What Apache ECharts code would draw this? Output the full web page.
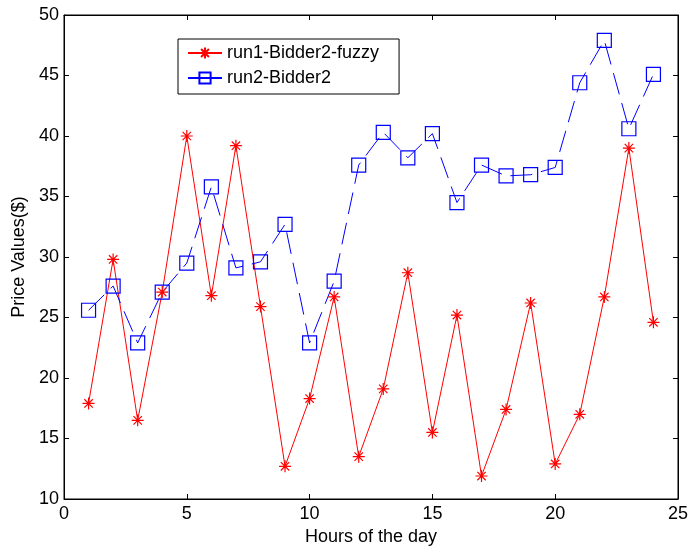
<!DOCTYPE html>
<html><head><meta charset="utf-8">
<script src="https://cdn.jsdelivr.net/npm/echarts@6/dist/echarts.min.js"></script>
<style>html,body{margin:0;padding:0;background:#fff}#c{width:691px;height:554px}</style>
</head><body><div id="c"></div>
<script>
const hours = [1,2,3,4,5,6,7,8,9,10,11,12,13,14,15,16,17,18,19,20,21,22,23,24];
const run1Fuzzy = [17.9,29.8,16.5,27.1,40.0,26.8,39.2,25.9,12.7,18.3,26.7,13.5,19.1,28.7,15.5,25.2,11.9,17.4,26.2,12.9,17.0,26.7,39.0,24.6];
const run2 = [25.6,27.6,22.9,27.1,29.5,35.8,29.1,29.6,32.7,22.9,28.0,37.6,40.3,38.2,40.2,34.5,37.6,36.7,36.8,37.4,44.4,47.9,40.6,45.1];
const seriesNames = ['run1-Bidder2-fuzzy','run2-Bidder2'];
const xTicks = [0,5,10,15,20,25];
const yTicks = [10,15,20,25,30,35,40,45,50];

const chart = echarts.init(document.getElementById('c'), null, {renderer:'canvas'});
const font = 'Liberation Sans, Arial, sans-serif';
const star = 'path://M0,-10L0,10M-10,0L10,0M-7,-7L7,7M-7,7L7,-7';
const pair = a => hours.map((h,i)=>[h,a[i]]);
const axisCommon = {
  axisLine:{show:true,onZero:false,lineStyle:{color:'#000',width:1}},
  axisTick:{show:true,inside:true,length:5,lineStyle:{color:'#000'}},
  splitLine:{show:false}
};
chart.setOption({
  animation:false,
  backgroundColor:'#fff',
  grid:{left:64,right:13,top:15,bottom:55,show:true,borderColor:'#000',borderWidth:1,backgroundColor:'transparent'},
  legend:{
    orient:'vertical', left:178, top:39,
    padding:[5,20,7,9], itemGap:7, itemWidth:34, itemHeight:14,
    borderColor:'#000', borderWidth:1, backgroundColor:'#fff', borderRadius:0,
    textStyle:{fontFamily:font,fontSize:18,color:'#000'},
    data:[{name:seriesNames[0]},{name:seriesNames[1],lineStyle:{type:'solid'}}]
  },
  xAxis:[
    Object.assign({type:'value',min:0,max:25,interval:5,position:'bottom',
      name:'Hours of the day',nameLocation:'middle',nameGap:28,
      nameTextStyle:{fontFamily:font,fontSize:18,color:'#000'},
      axisLabel:{fontFamily:font,fontSize:18,color:'#000',margin:6,formatter:v=>xTicks.includes(v)?String(v):''}},axisCommon),
    Object.assign({type:'value',min:0,max:25,interval:5,position:'top',axisLabel:{show:false}},axisCommon)
  ],
  yAxis:[
    Object.assign({type:'value',min:10,max:50,interval:5,position:'left',
      name:'Price Values($)',nameLocation:'middle',nameGap:29,
      nameTextStyle:{fontFamily:font,fontSize:18,color:'#000'},
      axisLabel:{fontFamily:font,fontSize:18,color:'#000',margin:5,formatter:v=>yTicks.includes(v)?String(v):''}},axisCommon),
    Object.assign({type:'value',min:10,max:50,interval:5,position:'right',axisLabel:{show:false}},axisCommon)
  ],
  series:[
    {name:seriesNames[0],type:'line',data:pair(run1Fuzzy),symbol:star,symbolSize:12,
     showAllSymbol:true,
     lineStyle:{color:'#ff0000',width:1},
     itemStyle:{color:'#ff0000',borderColor:'#ff0000',borderWidth:1.2}},
    {name:seriesNames[1],type:'line',data:pair(run2),symbol:'rect',symbolSize:14,
     showAllSymbol:true,
     lineStyle:{color:'#0000ff',width:1,type:[22,9]},
     itemStyle:{color:'rgba(255,255,255,0)',borderColor:'#0000ff',borderWidth:1.2}}
  ]
});
</script></body></html>
